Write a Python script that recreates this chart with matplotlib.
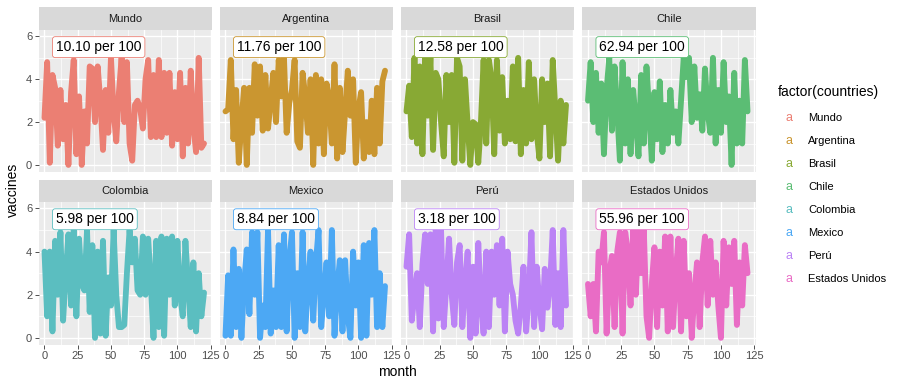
import numpy as np
import matplotlib.pyplot as plt
from matplotlib.ticker import MultipleLocator

plt.rcParams['font.family'] = ['Liberation Sans', 'DejaVu Sans']

countries = ["Mundo", "Argentina", "Brasil", "Chile",
             "Colombia", "Mexico", "Perú", "Estados Unidos"]
per100 = ["10.10", "11.76", "12.58", "62.94", "5.98", "8.84", "3.18", "55.96"]
colors = ["#EB7F73", "#CA9630", "#88A934", "#5BBD74",
          "#5BBEC0", "#4CA8F4", "#BB83F5", "#E96CC5"]

# vaccines per month (read every 2nd month off the picture)
mundo = [2.2, 4.8, 0.1, 4.2, 3.6, 0.9, 3.5, 1.2, 2.8, 0.0, 3.4, 4.9, 0.5, 3.2, 0.0, 2.5,
         1.0, 4.6, 4.5, 2.0, 4.6, 3.0, 0.7, 3.5, 1.5, 5.0, 2.5, 1.1, 3.4, 5.0, 2.0, 4.8,
         1.0, 0.2, 2.8, 3.0, 2.6, 1.7, 4.0, 4.9, 1.3, 4.2, 1.3, 4.9, 1.3, 4.3, 1.5, 4.3,
         0.9, 3.4, 1.2, 4.3, 0.4, 3.6, 1.0, 4.4, 1.8, 0.6, 5.0, 0.8, 1.0]
argentina = [2.5, 2.6, 4.9, 1.2, 3.5, 0.1, 2.0, 3.6, 0.0, 3.6, 1.5, 4.7, 2.3, 4.6, 1.6, 4.2,
             1.7, 3.0, 4.3, 2.0, 4.9, 3.2, 5.0, 1.5, 2.9, 3.5, 4.9, 1.1, 0.8, 4.3, 3.2, 1.5,
             4.0, 0.0, 4.2, 1.0, 4.0, 0.5, 3.8, 3.1, 1.0, 4.7, 0.3, 3.6, 0.6, 2.5, 4.4, 2.3,
             4.0, 0.1, 2.6, 3.4, 0.3, 2.0, 0.6, 3.0, 0.5, 3.6, 1.0, 3.9, 4.4]
brasil = [2.5, 3.7, 1.3, 5.0, 1.0, 4.6, 0.5, 5.0, 2.3, 5.0, 0.7, 4.3, 4.0, 2.0, 0.4, 4.2,
          2.0, 4.2, 0.1, 5.0, 4.6, 0.2, 4.0, 1.9, 0.0, 2.0, 1.9, 0.1, 2.0, 4.9, 1.0, 4.9,
          4.0, 0.5, 4.9, 1.6, 4.1, 1.0, 3.0, 1.2, 4.6, 1.1, 5.0, 0.5, 3.5, 1.0, 4.8, 1.2,
          4.0, 1.5, 0.3, 4.0, 2.0, 3.8, 0.4, 4.9, 2.5, 0.2, 3.0, 1.0, 2.8]
chile = [3.0, 4.8, 2.0, 4.3, 1.5, 3.8, 0.5, 3.5, 5.0, 1.6, 4.6, 2.5, 0.2, 4.8, 1.0, 4.0,
         0.5, 3.5, 2.0, 0.4, 4.2, 1.0, 4.6, 2.5, 0.2, 3.4, 1.2, 3.9, 0.6, 2.8, 1.0, 3.5,
         1.5, 2.5, 1.0, 3.0, 5.0, 4.1, 5.0, 2.0, 4.6, 2.2, 3.3, 1.6, 4.5, 2.5, 1.5, 5.0,
         1.0, 3.5, 1.5, 4.8, 2.0, 3.2, 0.0, 4.3, 1.0, 3.0, 1.0, 4.9, 2.5]
colombia = [4.0, 1.0, 4.0, 0.3, 4.5, 2.0, 4.9, 0.8, 3.0, 4.8, 1.5, 5.0, 1.0, 4.6, 2.5, 2.2,
            5.0, 1.2, 4.3, 0.0, 4.0, 0.2, 4.5, 0.1, 2.8, 1.5, 5.0, 2.0, 0.5, 0.5, 0.6, 3.0,
            5.0, 3.5, 4.6, 2.2, 2.0, 4.7, 2.0, 4.6, 2.5, 0.0, 4.5, 0.5, 4.7, 0.1, 4.6, 2.0,
            4.7, 1.5, 4.5, 2.0, 1.0, 4.5, 2.5, 0.5, 3.5, 0.3, 3.0, 1.0, 2.1]
mexico = [0.1, 2.9, 0.1, 4.1, 0.5, 3.2, 0.0, 2.5, 4.1, 1.1, 4.9, 2.0, 4.9, 0.0, 1.5, 0.5,
          5.0, 0.2, 2.2, 0.5, 4.3, 0.5, 4.8, 0.3, 3.6, 4.9, 0.0, 3.0, 0.5, 4.9, 0.3, 2.5,
          4.0, 0.8, 3.5, 5.0, 0.5, 2.0, 3.5, 1.0, 5.0, 0.1, 2.3, 3.6, 0.3, 3.6, 1.0, 0.0,
          4.0, 1.5, 3.5, 0.0, 4.3, 0.1, 4.4, 2.0, 5.0, 0.5, 3.0, 0.5, 2.4]
peru = [3.3, 4.8, 0.8, 2.0, 3.0, 0.5, 3.4, 4.8, 2.5, 4.8, 0.3, 5.0, 0.9, 5.0, 0.5, 2.5,
        4.6, 2.0, 0.6, 3.5, 4.3, 0.5, 2.5, 4.0, 0.0, 3.3, 0.2, 4.4, 1.5, 0.2, 4.0, 0.5,
        4.0, 2.0, 4.3, 1.5, 4.6, 0.3, 4.0, 2.5, 2.0, 0.8, 0.2, 1.5, 3.3, 0.3, 2.0, 4.9,
        0.5, 3.3, 1.5, 0.4, 3.2, 1.4, 2.5, 5.0, 0.6, 3.0, 0.5, 5.0, 1.5]
eeuu = [2.5, 1.0, 2.5, 0.3, 4.0, 3.5, 4.9, 0.2, 3.0, 3.8, 0.5, 4.0, 4.9, 0.2, 4.9, 4.0,
        1.5, 5.0, 2.0, 5.0, 3.0, 5.0, 1.0, 0.0, 2.5, 4.2, 0.5, 4.0, 1.5, 4.7, 0.3, 4.7,
        0.5, 3.0, 4.6, 0.3, 4.5, 1.0, 3.0, 0.0, 2.0, 3.5, 0.5, 3.5, 4.7, 1.5, 4.5, 2.0,
        3.5, 1.5, 0.0, 4.5, 1.5, 4.2, 2.5, 4.5, 0.6, 3.5, 1.5, 4.3, 3.0]

series = [mundo, argentina, brasil, chile, colombia, mexico, peru, eeuu]

W, H = 905, 387
fig = plt.figure(figsize=(W / 100, H / 100), dpi=100)

def fx(px):
    return px / W

def fy(py):
    return 1 - py / H

lefts = [38.5, 219.5, 400.5, 582]
pw = 173.5
rows = [(7, 30, 172), (180, 202, 345)]  # strip top, panel top, panel bottom

for i, (name, vals) in enumerate(zip(countries, series)):
    r, c = divmod(i, 4)
    st, pt, pb = rows[r]
    ax = fig.add_axes([fx(lefts[c]), fy(pb), fx(pw), (pb - pt) / H])
    sx = fig.add_axes([fx(lefts[c]), fy(pt), fx(pw), (pt - st) / H])
    sx.set_facecolor('#D9D9D9')
    sx.set_xticks([])
    sx.set_yticks([])
    for s in sx.spines.values():
        s.set_visible(False)
    sx.text(0.5, 0.5, name, ha='center', va='center', fontsize=8, color='#1A1A1A',
            transform=sx.transAxes)

    ax.set_facecolor('#EBEBEB')
    for s in ax.spines.values():
        s.set_visible(False)
    ax.set_xlim(-4.5, 126)
    ax.set_ylim(-0.33, 6.3)
    ax.xaxis.set_major_locator(MultipleLocator(25))
    ax.xaxis.set_minor_locator(MultipleLocator(12.5))
    ax.yaxis.set_major_locator(MultipleLocator(2))
    ax.yaxis.set_minor_locator(MultipleLocator(1))
    ax.grid(which='major', color='white', lw=1.0)
    ax.grid(which='minor', color='white', lw=0.5)
    ax.set_axisbelow(True)
    ax.tick_params(which='minor', length=0)
    ax.tick_params(which='major', length=3, width=0.6, color='#333333',
                   labelsize=8, labelcolor='#4D4D4D', pad=1.5)
    if c != 0:
        ax.tick_params(axis='y', left=False, labelleft=False)
    if r == 0:
        ax.tick_params(axis='x', bottom=False, labelbottom=False)

    x = np.arange(0, 2 * len(vals), 2)
    ax.plot(x, vals, color=colors[i], lw=4.2,
            solid_joinstyle='round', solid_capstyle='round')
    ax.text(8.6, 5.5, per100[i] + " per 100", ha='left', va='center', fontsize=10,
            color='black',
            bbox=dict(boxstyle='round,pad=0.25,rounding_size=0.2', fc='white',
                      ec=colors[i], lw=0.6))

fig.text(fx(13), fy(190), 'vaccines', rotation=90, ha='center', va='center', fontsize=10)
fig.text(fx(397), fy(372), 'month', ha='center', va='center', fontsize=10)

# legend
fig.text(fx(778), fy(92), 'factor(countries)', ha='left', va='center', fontsize=10)
for i, name in enumerate(countries):
    yy = 118 + i * 23
    fig.text(fx(789), fy(yy), 'a', ha='center', va='center', fontsize=9,
             color=colors[i])
    fig.text(fx(808), fy(yy), name, ha='left', va='center', fontsize=8)

fig.savefig('out.png', dpi=100)
